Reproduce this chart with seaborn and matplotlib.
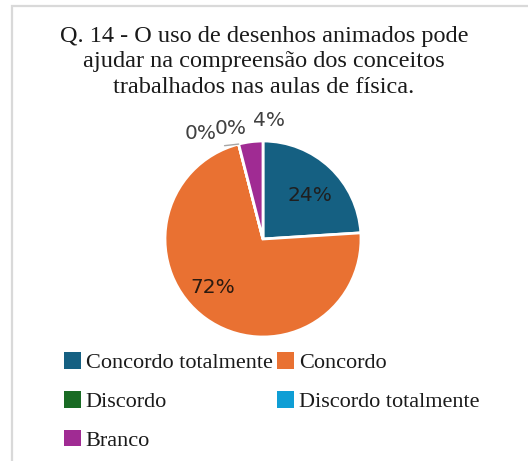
import numpy as np
import matplotlib
matplotlib.use("Agg")
import matplotlib.pyplot as plt
from matplotlib.patches import Patch, Rectangle
from matplotlib.lines import Line2D
import seaborn as sns

# Survey answers for question 14
categories = ["Concordo totalmente", "Concordo", "Discordo", "Discordo totalmente", "Branco"]
shares = [24, 72, 0, 0, 4]
pct_labels = ["24%", "72%", "0%", "0%", "4%"]
colors = ["#156082", "#E97132", "#196B24", "#0F9ED5", "#A02B93"]

title = ("Q. 14 - O uso de desenhos animados pode\n"
         "ajudar na compreensão dos conceitos\n"
         "trabalhados nas aulas de física.")

sns.set_theme(style="white")
plt.rcParams["font.family"] = ["DejaVu Sans"]

W, H = 528, 461
fig = plt.figure(figsize=(W / 100, H / 100), dpi=100)
fig.patch.set_facecolor("white")

# light frame around the chart area
fig.add_artist(Rectangle((12 / W, -0.05), 1.2, 1 - 6 / H + 0.05,
                         transform=fig.transFigure, fill=False,
                         edgecolor="#d9d9d9", linewidth=1.6))

fig.text(0.5, 1 - 26 / H, title, ha="center", va="top",
         family="Liberation Serif", fontsize=17.5, color="#1a1a1a",
         linespacing=1.28)

# pie axes: square in pixels, radius 1 fills it
cx, cy, R = 263, 239, 98
ax = fig.add_axes([(cx - R) / W, (H - cy - R) / H, 2 * R / W, 2 * R / H])
wedges, _ = ax.pie(shares, colors=colors, startangle=90, counterclock=False,
                   radius=1, wedgeprops=dict(edgecolor="white", linewidth=2))
ax.set_xlim(-1, 1)
ax.set_ylim(-1, 1)
ax.axis("off")

# label placement: (radius, angular nudge in degrees, colour)
placement = [(0.65, -4, "#1f1f1f"),
             (0.71, -10, "#2a1a10"),
             (1.25, 16, "#404040"),
             (1.18, 2, "#404040"),
             (1.21, -10, "#404040")]
for w, lab, (r, nudge, col) in zip(wedges, pct_labels, placement):
    mid = np.deg2rad((w.theta1 + w.theta2) / 2 + nudge)
    ax.text(r * np.cos(mid), r * np.sin(mid), lab, ha="center", va="center",
            fontsize=14.5, color=col, clip_on=False)

# short leader line for the zero-share slice next to the gap
a0 = np.deg2rad(wedges[3].theta1)
a1 = np.deg2rad(wedges[3].theta1 + 8)
ax.add_line(Line2D([1.0 * np.cos(a0), 1.03 * np.cos(a1)],
                   [1.0 * np.sin(a0), 1.03 * np.sin(a1)],
                   color="#a6a6a6", linewidth=1, clip_on=False))

# legend laid out row by row in two columns
handles = [Patch(facecolor=c, edgecolor="none") for c in colors]
order = [0, 2, 4, 1, 3]
fig.legend([handles[i] for i in order], [categories[i] for i in order],
           ncol=2, loc="upper left", bbox_to_anchor=(64 / W, 1 - 352 / H),
           frameon=False, borderpad=0, borderaxespad=0,
           prop=dict(family="Liberation Serif", size=16),
           handlelength=0.78, handleheight=0.78, handletextpad=0.2,
           columnspacing=0.2, labelspacing=0.8, labelcolor="#1a1a1a")

fig.savefig("out.png", dpi=100, facecolor="white")
